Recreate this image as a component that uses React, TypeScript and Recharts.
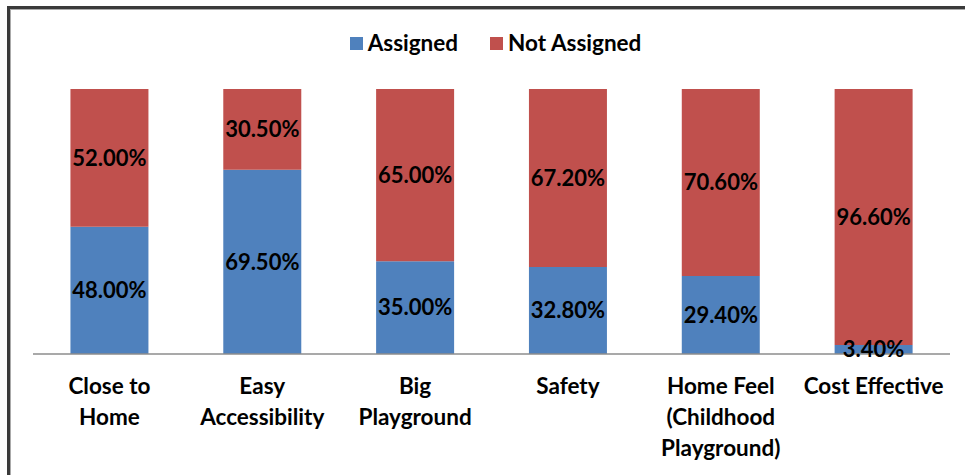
import React from "react";
import { BarChart, Bar, XAxis, YAxis, Legend, LabelList } from "recharts";

const categories = [
  "Close to Home",
  "Easy Accessibility",
  "Big Playground",
  "Safety",
  "Home Feel (Childhood Playground)",
  "Cost Effective",
];
const tickLines = [
  ["Close to", "Home"],
  ["Easy", "Accessibility"],
  ["Big", "Playground"],
  ["Safety"],
  ["Home Feel", "(Childhood", "Playground)"],
  ["Cost Effective"],
];
const assigned = [48.0, 69.5, 35.0, 32.8, 29.4, 3.4];
const notAssigned = [52.0, 30.5, 65.0, 67.2, 70.6, 96.6];
const seriesNames = ["Assigned", "Not Assigned"];
const colors = ["#4F81BD", "#C0504D"];

const data = categories.map((c, i) => ({
  name: c,
  idx: i,
  assigned: assigned[i],
  notAssigned: notAssigned[i],
}));

const FONT = "Lato, 'Open Sans', sans-serif";

const Tick = (props: any) => {
  const { x, y, payload } = props;
  const lines = tickLines[payload.index] || [payload.value];
  return (
    <g transform={`translate(${x},${y})`}>
      {lines.map((l: string, i: number) => (
        <text
          key={i}
          x={0}
          y={32 + i * 31}
          textAnchor="middle"
          fontFamily={FONT}
          fontWeight={700}
          fontSize={22.5}
          fill="#000"
        >
          {l}
        </text>
      ))}
    </g>
  );
};

const LegendContent = () => (
  <div
    style={{
      height: 61,
      display: "flex",
      justifyContent: "center",
      alignItems: "flex-start",
      fontFamily: FONT,
      fontWeight: 700,
      fontSize: 22.5,
      lineHeight: "30px",
      color: "#000",
      paddingLeft: 8,
      boxSizing: "border-box",
    }}
  >
    {seriesNames.map((n, i) => (
      <div key={n} style={{ display: "flex", alignItems: "center", marginRight: i === 0 ? 22 : 0, marginLeft: i === 0 ? 0 : 10 }}>
        <span style={{ display: "inline-block", width: 13, height: 13, background: colors[i], marginRight: 5 }} />
        <span>{n}</span>
      </div>
    ))}
  </div>
);

const fmt = (v: any) => `${Number(v).toFixed(2)}%`;

export default function App() {
  return (
    <div style={{ position: "absolute", left: 0, top: 0, width: 965, height: 475, background: "#fff", overflow: "hidden" }}>
      <div
        style={{
          position: "absolute",
          left: 7,
          top: 6,
          width: 980,
          height: 500,
          borderLeft: "3px solid #3a3a3a",
          borderTop: "3px solid #3a3a3a",
          boxShadow: "inset 1px 1px 0 #aaa",
        }}
      />
      <div style={{ position: "absolute", left: 0, top: 0 }}>
        <BarChart
          width={965}
          height={475}
          data={data}
          margin={{ top: 28, right: 15, bottom: 0, left: 33 }}
          barCategoryGap="24.5%"
        >
          <Legend verticalAlign="top" align="center" content={<LegendContent />} />
          <YAxis hide domain={[0, 100]} />
          <XAxis
            dataKey="name"
            height={121}
            interval={0}
            tickLine={false}
            axisLine={{ stroke: "#8c8c8c", strokeWidth: 1.5 }}
            tick={<Tick />}
          />
          <Bar dataKey="assigned" stackId="a" fill={colors[0]} isAnimationActive={false}>
            <LabelList dataKey="assigned" position="center" formatter={fmt} fill="#000" fontFamily={FONT} fontWeight={700} fontSize={22} />
          </Bar>
          <Bar dataKey="notAssigned" stackId="a" fill={colors[1]} isAnimationActive={false}>
            <LabelList dataKey="notAssigned" position="center" formatter={fmt} fill="#000" fontFamily={FONT} fontWeight={700} fontSize={22} />
          </Bar>
        </BarChart>
      </div>
    </div>
  );
}
